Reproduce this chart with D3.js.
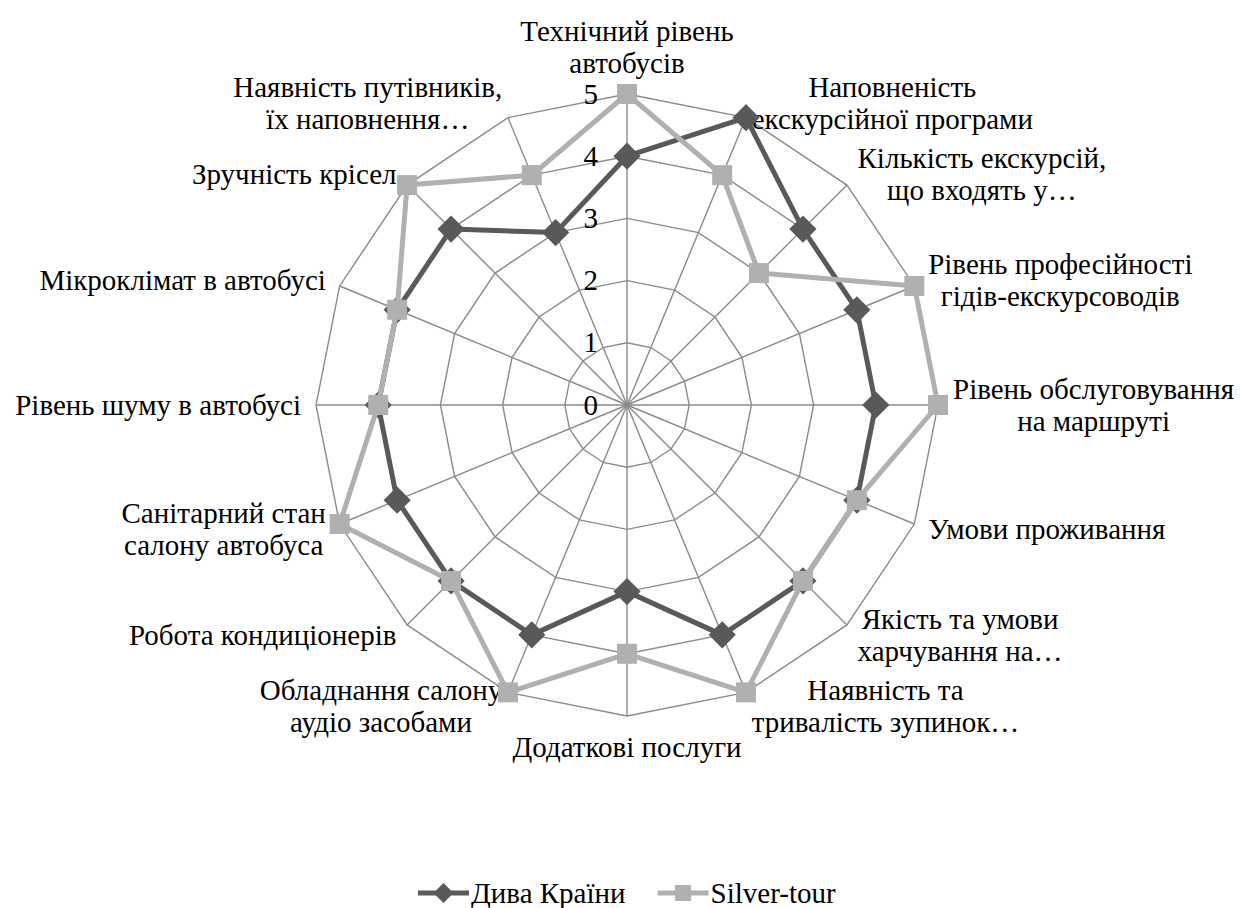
<!DOCTYPE html>
<html>
<head>
<meta charset="utf-8">
<script src="https://cdn.jsdelivr.net/npm/d3@7"></script>
<style>
  body { margin: 0; background: #fff; }
</style>
</head>
<body>
<div id="chart"></div>
<script>
// categories (clockwise from the top)
var categories = [
    "Технічний рівень\nавтобусів",
    "Наповненість\nекскурсійної програми",
    "Кількість екскурсій,\nщо входять у…",
    "Рівень професійності\nгідів-екскурсоводів",
    "Рівень обслуговування\nна маршруті",
    "Умови проживання",
    "Якість та умови\nхарчування на…",
    "Наявність та\nтривалість зупинок…",
    "Додаткові послуги",
    "Обладнання салону\nаудіо засобами",
    "Робота кондиціонерів",
    "Санітарний стан\nсалону автобуса",
    "Рівень шуму в автобусі",
    "Мікроклімат в автобусі",
    "Зручність крісел",
    "Наявність путівників,\nїх наповнення…"
];
var divaValues   = [4, 5, 4, 4, 4, 4, 4, 4, 3, 4, 4, 4, 4, 4, 4, 3];
var silverValues = [5, 4, 3, 5, 5, 4, 4, 5, 4, 5, 4, 5, 4, 4, 5, 4];
var tickValues = [0, 1, 2, 3, 4, 5];
var seriesNames = ["Дива Країни", "Silver-tour"];

var W = 1242, H = 908;
var cx = 627, cy = 405, R = 311;
var fontSize = 29, lineH = 32;
var fontFamily = "'Liberation Serif', 'Times New Roman', serif";

var svg = d3.select("#chart").append("svg")
    .attr("width", W)
    .attr("height", H)
    .attr("font-family", fontFamily);

var g = svg.append("g")
    .attr("transform", "translate(" + cx + "," + cy + ")");

var r = d3.scaleLinear().domain([0, 5]).range([0, R]);
var angle = d3.scaleLinear().domain([0, categories.length]).range([0, 2 * Math.PI]);

function px(i, v) { return r(v) * Math.sin(angle(i)); }
function py(i, v) { return -r(v) * Math.cos(angle(i)); }

var gridColor = "#8a8a8a";

// grid polygons
tickValues.slice(1).forEach(function(t){
    g.append("path")
        .attr("d", d3.lineRadial()
            .angle(function(d, i){ return angle(i); })
            .radius(function(){ return r(t); })
            .curve(d3.curveLinearClosed)(categories))
        .attr("fill", "none")
        .attr("stroke", gridColor)
        .attr("stroke-width", 1.4);
});

// spokes
g.selectAll(".spoke")
    .data(categories)
    .enter().append("line")
    .attr("class", "spoke")
    .attr("x1", 0).attr("y1", 0)
    .attr("x2", function(d, i){ return px(i, 5); })
    .attr("y2", function(d, i){ return py(i, 5); })
    .attr("stroke", gridColor)
    .attr("stroke-width", 1.4);

// tick labels
g.selectAll(".tick")
    .data(tickValues)
    .enter().append("text")
    .attr("class", "tick")
    .attr("x", -29)
    .attr("y", function(d){ return -r(d); })
    .attr("dy", "0.33em")
    .attr("text-anchor", "end")
    .attr("font-size", fontSize + "px")
    .text(function(d){ return d; });

// category labels, placed just outside the end of each spoke
categories.forEach(function(c, i){
    var a = angle(i);
    var s = Math.sin(a), co = Math.cos(a);
    var lx = (R + 15) * s, ly = -(R + 15) * co;
    var lines = c.split("\n");
    var lab = g.append("g");
    var texts = lab.selectAll("text").data(lines).enter().append("text")
        .attr("font-size", fontSize + "px")
        .attr("text-anchor", "middle")
        .text(function(d){ return d; });
    var w = 0;
    texts.each(function(){ w = Math.max(w, this.getComputedTextLength()); });
    var h = lines.length * lineH;
    var left, top;
    if (Math.abs(s) < 0.1) {
        left = lx - w / 2;
        top = co > 0 ? ly - h : ly;
    } else {
        left = s > 0 ? lx : lx - w;
        top = ly - h / 2;
    }
    texts.attr("x", left + w / 2)
        .attr("y", function(d, k){ return top + lineH * (k + 0.5); })
        .attr("dy", "0.33em");
});

// series
var series = [
    {name: seriesNames[0], values: divaValues, color: "#595959", shape: "diamond"},
    {name: seriesNames[1], values: silverValues, color: "#b0b0b0", shape: "square"}
];

var diamond = d3.symbol().type(d3.symbolSquare).size(370);
var square = d3.symbol().type(d3.symbolSquare).size(400);

series.forEach(function(s){
    g.append("path")
        .attr("d", d3.lineRadial()
            .angle(function(d, i){ return angle(i); })
            .radius(function(d){ return r(d); })
            .curve(d3.curveLinearClosed)(s.values))
        .attr("fill", "none")
        .attr("stroke", s.color)
        .attr("stroke-width", 5)
        .attr("stroke-linejoin", "round");

    g.selectAll(".m-" + s.shape)
        .data(s.values)
        .enter().append("path")
        .attr("class", "m-" + s.shape)
        .attr("d", s.shape === "diamond" ? diamond : square)
        .attr("transform", function(d, i){
            return "translate(" + px(i, d) + "," + py(i, d) + ")" + (s.shape === "diamond" ? " rotate(45)" : "");
        })
        .attr("fill", s.color);
});

// legend
var legend = svg.append("g");
var legY = 893;
var items = legend.selectAll(".leg").data(series).enter().append("g").attr("class", "leg");
items.append("line")
    .attr("x1", 0).attr("x2", 51)
    .attr("y1", 0).attr("y2", 0)
    .attr("stroke", function(d){ return d.color; })
    .attr("stroke-width", 5);
items.append("path")
    .attr("d", function(d){
        return d.shape === "diamond"
            ? d3.symbol().type(d3.symbolSquare).size(200)()
            : d3.symbol().type(d3.symbolSquare).size(256)();
    })
    .attr("transform", function(d){ return "translate(25.5,0)" + (d.shape === "diamond" ? " rotate(45)" : ""); })
    .attr("fill", function(d){ return d.color; });
items.append("text")
    .attr("x", 53)
    .attr("dy", "0.33em")
    .attr("font-size", fontSize + "px")
    .text(function(d){ return d.name; });

var widths = [];
items.each(function(){ widths.push(this.getBBox().width); });
var gap = 32;
var total = d3.sum(widths) + gap * (widths.length - 1);
var xpos = cx - total / 2;
items.attr("transform", function(d, i){
    var x = xpos;
    xpos += widths[i] + gap;
    return "translate(" + x + "," + legY + ")";
});
</script>
</body>
</html>
